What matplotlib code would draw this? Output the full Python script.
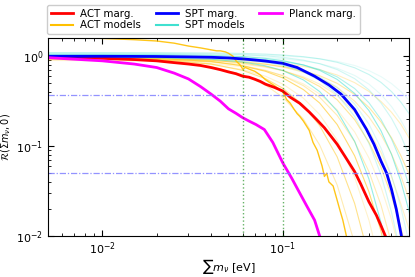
import numpy as np
import matplotlib
matplotlib.use("Agg")
import matplotlib.pyplot as plt

# ---------------- data ----------------
# marginalised curves
act_marg_x = [0.005, 0.01, 0.015, 0.02, 0.025, 0.03, 0.035, 0.04, 0.045, 0.05, 0.055, 0.06,
              0.065, 0.07, 0.075, 0.08, 0.09, 0.1, 0.11, 0.124, 0.14, 0.153, 0.17, 0.19, 0.2,
              0.22, 0.25, 0.27, 0.30, 0.33, 0.35, 0.37, 0.40]
act_marg_y = [0.99, 0.95, 0.92, 0.89, 0.85, 0.82, 0.79, 0.75, 0.71, 0.67, 0.64, 0.60,
              0.585, 0.555, 0.525, 0.49, 0.45, 0.41, 0.35, 0.30, 0.24, 0.20, 0.16, 0.12, 0.105,
              0.078, 0.052, 0.038, 0.024, 0.017, 0.013, 0.010, 0.007]

spt_marg_x = [0.005, 0.01, 0.02, 0.03, 0.04, 0.05, 0.06, 0.07, 0.08, 0.1, 0.12, 0.15, 0.18,
              0.21, 0.25, 0.29, 0.32, 0.35, 0.376, 0.40, 0.425, 0.45, 0.47]
spt_marg_y = [1.0, 1.0, 0.995, 0.985, 0.975, 0.958, 0.935, 0.91, 0.886, 0.835, 0.75, 0.60, 0.48,
              0.38, 0.255, 0.155, 0.105, 0.068, 0.05, 0.033, 0.02, 0.011, 0.007]

planck_marg_x = [0.005, 0.01, 0.015, 0.02, 0.025, 0.03, 0.035, 0.04, 0.045, 0.05, 0.055, 0.06,
                 0.065, 0.071, 0.079, 0.088, 0.1, 0.112, 0.121, 0.135, 0.15, 0.16, 0.17]
planck_marg_y = [0.965, 0.89, 0.82, 0.75, 0.65, 0.56, 0.46, 0.38, 0.317, 0.26, 0.232, 0.207,
                 0.19, 0.174, 0.153, 0.11, 0.065, 0.044, 0.033, 0.022, 0.015, 0.010, 0.007]

# the prominent (jagged) ACT model
act_main_x = [0.005, 0.008, 0.01, 0.015, 0.02, 0.025, 0.03, 0.035, 0.04, 0.043, 0.045, 0.048,
              0.05, 0.053, 0.055, 0.058, 0.06, 0.062, 0.065, 0.07, 0.075, 0.08, 0.09, 0.1,
              0.105, 0.11, 0.115, 0.12, 0.124, 0.13, 0.14, 0.147, 0.155, 0.165, 0.17, 0.175,
              0.18, 0.19, 0.2, 0.207, 0.215, 0.225, 0.235]
act_main_y = [1.70, 1.62, 1.58, 1.53, 1.48, 1.40, 1.30, 1.24, 1.18, 1.15, 1.15, 1.12,
              1.08, 1.00, 0.89, 0.80, 0.72, 0.75, 0.72, 0.68, 0.62, 0.55, 0.47, 0.40,
              0.33, 0.30, 0.26, 0.23, 0.215, 0.19, 0.15, 0.11, 0.09, 0.06, 0.046, 0.05,
              0.04, 0.036, 0.025, 0.0195, 0.015, 0.010, 0.007]

# common mass grid of the thin model curves
model_x = [0.005, 0.01, 0.02, 0.04, 0.06, 0.08, 0.1, 0.13, 0.16, 0.2, 0.25, 0.3, 0.35,
           0.4, 0.45, 0.5, 0.56]

act_models = [
    [0.944, 0.931, 0.890, 0.770, 0.624, 0.480, 0.350, 0.200, 0.103, 0.037, 0.0083, 0.002],
    [0.965, 0.954, 0.922, 0.821, 0.696, 0.565, 0.441, 0.285, 0.169, 0.076, 0.023, 0.0058, 0.001],
    [0.926, 0.917, 0.893, 0.813, 0.711, 0.600, 0.491, 0.342, 0.225, 0.117, 0.045, 0.015, 0.0043],
    [0.977, 0.968, 0.947, 0.877, 0.784, 0.681, 0.575, 0.426, 0.302, 0.174, 0.078, 0.031, 0.0113, 0.0035],
    [0.947, 0.941, 0.922, 0.865, 0.787, 0.698, 0.606, 0.471, 0.350, 0.220, 0.112, 0.052, 0.022, 0.0083, 0.0029],
    [0.898, 0.893, 0.878, 0.828, 0.765, 0.691, 0.612, 0.492, 0.381, 0.254, 0.144, 0.074, 0.035, 0.0153, 0.0061, 0.0023],
    [0.968, 0.963, 0.949, 0.904, 0.842, 0.771, 0.694, 0.573, 0.461, 0.328, 0.197, 0.110, 0.058, 0.028, 0.0126, 0.0053, 0.0019],
    [0.918, 0.914, 0.903, 0.867, 0.817, 0.757, 0.692, 0.591, 0.490, 0.366, 0.239, 0.147, 0.085, 0.046, 0.023, 0.012, 0.0046],
    [0.959, 0.955, 0.945, 0.915, 0.872, 0.818, 0.758, 0.666, 0.570, 0.450, 0.317, 0.211, 0.134, 0.082, 0.047, 0.026, 0.012],
    [0.929, 0.926, 0.919, 0.894, 0.857, 0.817, 0.768, 0.690, 0.608, 0.500, 0.376, 0.270, 0.186, 0.124, 0.079, 0.049, 0.026],
    [0.949, 0.947, 0.941, 0.924, 0.898, 0.867, 0.833, 0.772, 0.709, 0.619, 0.509, 0.406, 0.314, 0.238, 0.176, 0.124, 0.082],
]
act_alphas = [0.3, 0.45, 0.2, 0.55, 0.3, 0.18, 0.4, 0.22, 0.28, 0.35, 0.25]

spt_models = [
    [0.979, 0.977, 0.966, 0.927, 0.865, 0.784, 0.694, 0.546, 0.405, 0.246, 0.113, 0.043, 0.0141, 0.0038],
    [1.019, 1.017, 1.010, 0.980, 0.932, 0.869, 0.795, 0.668, 0.538, 0.375, 0.214, 0.107, 0.048, 0.0184, 0.0064],
    [0.960, 0.958, 0.952, 0.931, 0.897, 0.851, 0.795, 0.698, 0.591, 0.450, 0.295, 0.176, 0.095, 0.047, 0.021, 0.0085],
    [1.050, 1.048, 1.044, 1.024, 0.991, 0.948, 0.895, 0.801, 0.697, 0.553, 0.386, 0.249, 0.148, 0.081, 0.041, 0.019, 0.0069],
    [1.0, 0.999, 0.995, 0.979, 0.954, 0.919, 0.876, 0.80, 0.713, 0.59, 0.438, 0.304, 0.198, 0.12, 0.069, 0.037, 0.016],
    [1.080, 1.079, 1.076, 1.062, 1.040, 1.011, 0.973, 0.906, 0.827, 0.712, 0.564, 0.423, 0.302, 0.204, 0.131, 0.080, 0.041],
    [1.020, 1.019, 1.017, 1.007, 0.990, 0.968, 0.939, 0.888, 0.828, 0.736, 0.612, 0.490, 0.375, 0.276, 0.195, 0.133, 0.079],
    [1.100, 1.099, 1.097, 1.089, 1.076, 1.057, 1.033, 0.990, 0.937, 0.857, 0.745, 0.627, 0.512, 0.405, 0.310, 0.231, 0.155],
    [1.060, 1.060, 1.058, 1.052, 1.042, 1.028, 1.011, 0.978, 0.939, 0.878, 0.790, 0.693, 0.594, 0.497, 0.407, 0.325, 0.241],
]
spt_alphas = [0.55, 0.25, 0.2, 0.55, 0.4, 0.25, 0.15, 0.3, 0.12]

vlines = [0.06, 0.1]
hlines = [np.exp(-1), 0.05]

# ---------------- figure ----------------
ACT_C = '#FFC000'
SPT_C = '#40E0D0'

fig = plt.figure(figsize=(4.15, 2.77), dpi=100)
ax = fig.add_axes([0.1157, 0.148, 0.8698, 0.715])

for ys, a in zip(act_models, act_alphas):
    ax.plot(model_x[:len(ys)], ys, color=ACT_C, lw=0.8, alpha=a)
for ys, a in zip(spt_models, spt_alphas):
    ax.plot(model_x[:len(ys)], ys, color=SPT_C, lw=0.8, alpha=a)
ax.plot(act_main_x, act_main_y, color=ACT_C, lw=1.0, alpha=0.9)

ax.plot(act_marg_x, act_marg_y, color='red', lw=2.0, label='ACT marg.')
ax.plot([], [], color=ACT_C, lw=1.5, label='ACT models')
ax.plot(spt_marg_x, spt_marg_y, color='blue', lw=2.0, label='SPT marg.')
ax.plot([], [], color=SPT_C, lw=1.5, label='SPT models')
ax.plot(planck_marg_x, planck_marg_y, color='magenta', lw=2.0, label='Planck marg.')

for v in vlines:
    ax.axvline(v, color='green', ls=':', lw=1.0, alpha=0.6)
for h in hlines:
    ax.axhline(h, color=(0.5, 0.5, 1.0), ls=(0, (5, 1.5, 1, 1.5)), lw=0.9, alpha=0.85)

ax.set_xscale('log')
ax.set_yscale('log')
ax.set_xlim(0.005, 0.5)
ax.set_ylim(0.01, 1.6)
ax.tick_params(which='both', direction='in', top=True, right=True, labelsize=8)
ax.tick_params(which='major', length=4)
ax.tick_params(which='minor', length=2)
ax.set_xlabel(r'$\sum m_\nu$ [eV]', fontsize=8, labelpad=0)
ax.set_ylabel(r'$\mathcal{R}(\Sigma m_\nu, 0)$', fontsize=7, labelpad=2)

ax.legend(ncol=3, fontsize=7.4, loc='lower left', bbox_to_anchor=(-0.003, 1.02),
          borderaxespad=0.0, handlelength=2.2, columnspacing=1.4, labelspacing=0.15,
          handletextpad=0.7, borderpad=0.35, framealpha=1.0, fancybox=True)

fig.savefig('out.png', dpi=100)
